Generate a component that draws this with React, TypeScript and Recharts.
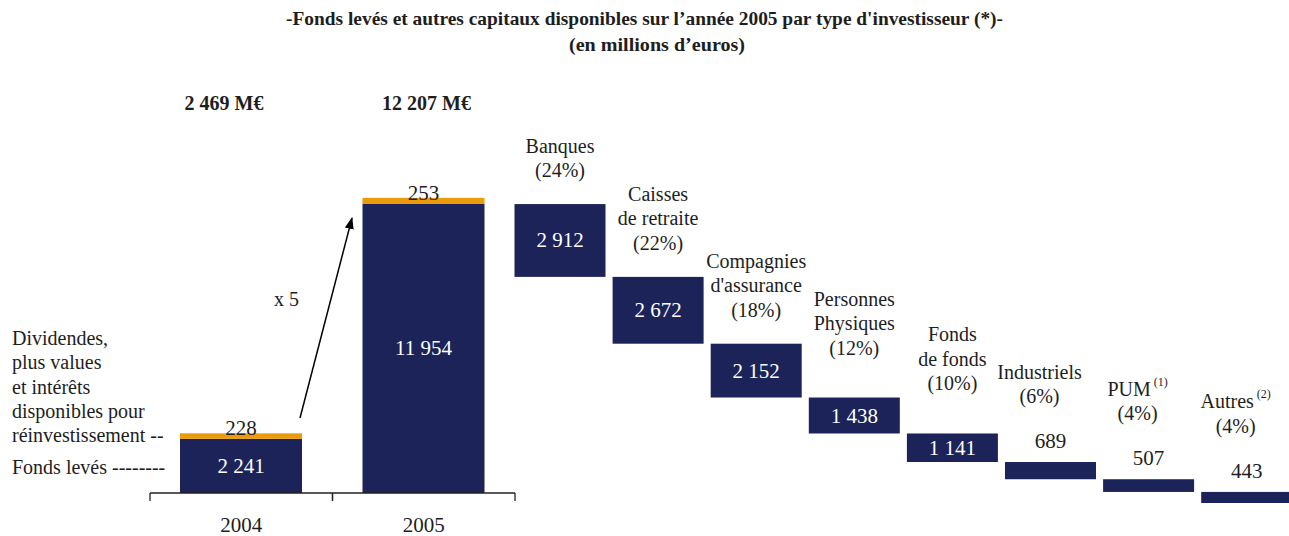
import React from "react";
import { BarChart, Bar, XAxis, YAxis } from "recharts";

// 2004 / 2005 totals
const YEARS = ["2004", "2005"];
const FONDS_LEVES = [2241, 11954];
const DIVIDENDES = [228, 253];

// 2005 breakdown by investor type
const INVESTOR_LINES = [
  ["Banques"],
  ["Caisses", "de retraite"],
  ["Compagnies", "d'assurance"],
  ["Personnes", "Physiques"],
  ["Fonds", "de fonds"],
  ["Industriels"],
  ["PUM"],
  ["Autres"],
];
const INVESTOR_NOTES = ["", "", "", "", "", "", "(1)", "(2)"];
const INVESTOR_SHARES = [24, 22, 18, 12, 10, 6, 4, 4];
const INVESTOR_AMOUNTS = [2912, 2672, 2152, 1438, 1141, 689, 507, 443];

const LEFT_NOTE_LINES = ["Dividendes,", "plus values", "et intérêts", "disponibles pour", "réinvestissement --"];

const NAVY = "#1c2358";
const ORANGE = "#eb9a0a";
const INK = "#1e1e1e";
const FONT = '"Liberation Serif", "Times New Roman", serif';
const NUM_SIZE = 21;
const TEXT_SIZE = 20;

const W = 1289;
const H = 536;
const LEFT_W = 600;
const LEFT_MARGIN = { top: 154.5, right: 85, bottom: 3, left: 150 };
const BAND = (LEFT_W - LEFT_MARGIN.left - LEFT_MARGIN.right) / YEARS.length;
const TOTAL_Y = 103;
const TOTAL_DX = [-17, 3];
const RIGHT_W = 1300;
const RIGHT_MARGIN = { top: 152.9, right: 4.7, bottom: 33, left: 510.5 };

const fmt = (n: number) => String(n).replace(/\B(?=(\d{3})+(?!\d))/g, " ");

const yearData = YEARS.map((year, i) => ({
  year,
  leves: FONDS_LEVES[i],
  div: DIVIDENDES[i],
}));

const investorTotal = INVESTOR_AMOUNTS.reduce((s, v) => s + v, 0);
const investorData = INVESTOR_AMOUNTS.map((amount, i) => {
  const used = INVESTOR_AMOUNTS.slice(0, i + 1).reduce((s, v) => s + v, 0);
  return { name: INVESTOR_LINES[i].join(" "), base: investorTotal - used, amount };
});

const YearTick = (props: any) => {
  const { x, y, payload } = props;
  return (
    <g>
      <line x1={x - BAND / 2} y1={y} x2={x - BAND / 2} y2={y + 8} stroke="#222" strokeWidth={1.3} />
      <line x1={x + BAND / 2} y1={y} x2={x + BAND / 2} y2={y + 8} stroke="#222" strokeWidth={1.3} />
      <text x={x} y={y + 32} textAnchor="middle" dominantBaseline="central" fontFamily={FONT} fontSize={NUM_SIZE} fill={INK}>
        {payload.value}
      </text>
    </g>
  );
};

const LevesShape = (props: any) => {
  const { x, y, width, height, index } = props;
  return (
    <g>
      <rect x={x} y={y} width={width} height={height} fill={NAVY} />
      <text x={x + width / 2} y={y + height / 2} textAnchor="middle" dominantBaseline="central" fontFamily={FONT} fontSize={NUM_SIZE} fill="#fff">
        {fmt(FONDS_LEVES[index])}
      </text>
    </g>
  );
};

const DivShape = (props: any) => {
  const { x, y, width, height, index } = props;
  const cx = x + width / 2;
  return (
    <g>
      <rect x={x} y={y} width={width} height={height} fill={ORANGE} />
      <text x={cx} y={y + 2} textAnchor="middle" fontFamily={FONT} fontSize={NUM_SIZE} fill={INK}>
        {fmt(DIVIDENDES[index])}
      </text>
      <text x={cx + TOTAL_DX[index]} y={TOTAL_Y} textAnchor="middle" dominantBaseline="central" fontFamily={FONT} fontSize={20} fontWeight="bold" fill={INK}>
        {fmt(FONDS_LEVES[index] + DIVIDENDES[index])} M€
      </text>
    </g>
  );
};

const InvestorShape = (props: any) => {
  const { x, y, width, height, index } = props;
  const cx = x + width / 2;
  const inside = height > 24;
  const rise = height > 45 ? 34 : inside ? 50 : 66;
  const dx = inside ? 0 : -11;
  const lines = [...INVESTOR_LINES[index], `(${INVESTOR_SHARES[index]}%)`];
  const n = lines.length;
  return (
    <g>
      <rect x={x} y={y} width={width} height={height} fill={NAVY} />
      <text
        x={cx}
        y={inside ? y + height / 2 : y - 21}
        textAnchor="middle"
        dominantBaseline="central"
        fontFamily={FONT}
        fontSize={NUM_SIZE}
        fill={inside ? "#fff" : INK}
      >
        {fmt(INVESTOR_AMOUNTS[index])}
      </text>
      {lines.map((line, li) => (
        <text
          key={li}
          x={cx + dx}
          y={y - rise - (n - 1 - li) * 24.5}
          textAnchor="middle"
          dominantBaseline="central"
          fontFamily={FONT}
          fontSize={TEXT_SIZE}
          fill={INK}
        >
          {line}
          {li === 0 && INVESTOR_NOTES[index] ? (
            <tspan fontSize={12} dy={-7}>
              {" " + INVESTOR_NOTES[index]}
            </tspan>
          ) : null}
        </text>
      ))}
    </g>
  );
};

export default function App() {
  return (
    <div style={{ position: "absolute", left: 0, top: 0, width: W, height: H, overflow: "hidden", background: "#fff", fontFamily: FONT }}>
      <div style={{ position: "absolute", left: 0, top: 0 }}>
        <BarChart width={LEFT_W} height={H} data={yearData} margin={LEFT_MARGIN} barSize={122}>
          <XAxis
            dataKey="year"
            height={40}
            tickSize={0}
            tickMargin={0}
            interval={0}
            axisLine={{ stroke: "#222", strokeWidth: 1.3 }}
            tickLine={false}
            tick={(p: any) => <YearTick {...p} />}
          />
          <YAxis hide type="number" domain={[0, 14000]} />
          <Bar dataKey="leves" stackId="a" fill={NAVY} shape={(p: any) => <LevesShape {...p} />} isAnimationActive={false} />
          <Bar dataKey="div" stackId="a" fill={ORANGE} shape={(p: any) => <DivShape {...p} />} isAnimationActive={false} />
        </BarChart>
      </div>
      <div style={{ position: "absolute", left: 0, top: 0 }}>
        <BarChart width={RIGHT_W} height={H} data={investorData} margin={RIGHT_MARGIN} barSize={91}>
          <XAxis dataKey="name" hide />
          <YAxis hide type="number" domain={[0, 14000]} />
          <Bar dataKey="base" stackId="w" fill="transparent" isAnimationActive={false} />
          <Bar dataKey="amount" stackId="w" fill={NAVY} shape={(p: any) => <InvestorShape {...p} />} isAnimationActive={false} />
        </BarChart>
      </div>
      <svg width={W} height={H} style={{ position: "absolute", left: 0, top: 0, pointerEvents: "none" }}>
        <defs>
          <marker id="arrowHead" markerUnits="userSpaceOnUse" markerWidth={12} markerHeight={12} refX={11} refY={6} orient="auto">
            <path d="M0,1.5 L12,6 L0,10.5 z" fill="#000" />
          </marker>
        </defs>
        <text x={644.5} y={18} textAnchor="middle" dominantBaseline="central" fontFamily={FONT} fontSize={19} fontWeight="bold" fill={INK} textLength={717} lengthAdjust="spacingAndGlyphs">
          -Fonds levés et autres capitaux disponibles sur l’année 2005 par type d'investisseur (*)-
        </text>
        <text x={657} y={44} textAnchor="middle" dominantBaseline="central" fontFamily={FONT} fontSize={19} fontWeight="bold" fill={INK} textLength={176} lengthAdjust="spacingAndGlyphs">
          (en millions d’euros)
        </text>
        {LEFT_NOTE_LINES.map((line, i) => (
          <text key={i} x={12} y={338 + i * 24.3} dominantBaseline="central" fontFamily={FONT} fontSize={TEXT_SIZE} fill={INK}>
            {line}
          </text>
        ))}
        <text x={12} y={467} dominantBaseline="central" fontFamily={FONT} fontSize={TEXT_SIZE} fill={INK}>
          Fonds levés --------
        </text>
        <text x={274} y={299} dominantBaseline="central" fontFamily={FONT} fontSize={TEXT_SIZE} fill={INK}>
          x 5
        </text>
        <line x1={300} y1={418} x2={352} y2={218} stroke="#000" strokeWidth={1.5} markerEnd="url(#arrowHead)" />
      </svg>
    </div>
  );
}
